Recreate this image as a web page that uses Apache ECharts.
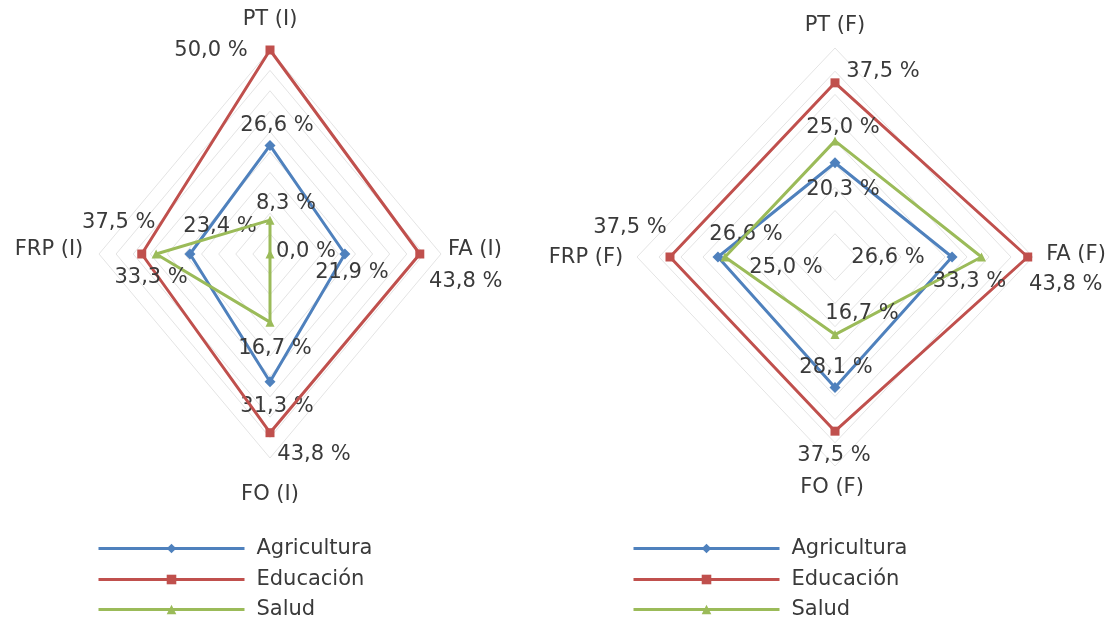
<!DOCTYPE html>
<html>
<head>
<meta charset="utf-8">
<script src="https://cdn.jsdelivr.net/npm/echarts@6/dist/echarts.min.js"></script>
<style>
html,body{margin:0;padding:0;background:#fff;}
#main{width:1110px;height:623px;}
</style>
</head>
<body>
<div id="main"></div>
<script>
// ---- data ----
const categoriesI = ['PT (I)', 'FA (I)', 'FO (I)', 'FRP (I)'];
const categoriesF = ['PT (F)', 'FA (F)', 'FO (F)', 'FRP (F)'];
const seriesNames = ['Agricultura', 'Educación', 'Salud'];
const agriculturaI = [26.6, 21.9, 31.3, 23.4];
const educacionI = [50.0, 43.8, 43.8, 37.5];
const saludI = [8.3, 0.0, 16.7, 33.3];
const agriculturaF = [20.3, 26.6, 28.1, 26.6];
const educacionF = [37.5, 43.8, 37.5, 37.5];
const saludF = [25.0, 33.3, 16.7, 25.0];
const ringTicksI = [5, 10, 15, 20, 25, 30, 35, 40, 45, 50];
const ringTicksF = [5, 10, 15, 20, 25, 30, 35, 40, 45];

// ---- styles ----
const colors = ['#4f81bd', '#c0504d', '#9bbb59'];
const symbols = ['diamond', 'rect', 'triangle'];
const symbolSizes = [11, 9, 9];
const textColor = '#3a3a3a';
const fontFamily = '"DejaVu Sans", Verdana, sans-serif';
const fontSize = 21;
// label offsets (px) per series per axis [PT, FA, FO, FRP]
const labelOffsetsI = [
  [[7, -20], [7, 19], [7, 25], [30, -27]],
  [[-59, 1], [46, 28], [44, 22], [-23, -31]],
  [[16, -17], [36, -2], [5, 26], [-5, 24]]
];
const labelOffsetsF = [
  [[8, 27], [-64, 1], [1, -20], [28, -22]],
  [[48, -11], [38, 28], [-1, 24], [-40, -29]],
  [[8, -13], [-12, 25], [27, -21], [61, 11]]
];
const catOffsetsI = [[0, -30], [34, -4], [0, 37], [-50, -4]];
const catOffsetsF = [[0, -22], [43, -2], [-3, 22], [-51, 1]];
const legendLefts = [97, 632];
const legendTops = [538, 569, 599];

// direction of each axis in the x/y plane: PT up, FA right, FO down, FRP left
const dirs = [[0, 1], [1, 0], [0, -1], [-1, 0]];
const fmt = v => v.toFixed(1).replace('.', ',') + ' %';

function ringSeries(ticks, idx) {
  return ticks.map(t => ({
    type: 'line', xAxisIndex: idx, yAxisIndex: idx, silent: true,
    symbol: 'none', z: 1,
    lineStyle: { color: '#e4e4e4', width: 1 },
    data: dirs.concat([dirs[0]]).map(d => [d[0] * t, d[1] * t])
  }));
}

function dataSeries(values, si, idx, offsets) {
  const pts = values.map((v, k) => ({
    value: [dirs[k][0] * v, dirs[k][1] * v],
    label: {
      show: true, position: 'inside', offset: offsets[si][k],
      formatter: fmt(v)
    }
  }));
  pts.push({ value: [dirs[0][0] * values[0], dirs[0][1] * values[0]], symbol: 'none', label: { show: false } });
  return {
    type: 'line', name: seriesNames[si], xAxisIndex: idx, yAxisIndex: idx, z: 5 + si,
    symbol: symbols[si], symbolSize: symbolSizes[si],
    color: colors[si],
    lineStyle: { color: colors[si], width: 3 },
    itemStyle: { color: colors[si] },
    label: { color: textColor, fontSize: fontSize, fontFamily: fontFamily },
    emphasis: { disabled: true },
    data: pts
  };
}

function catSeries(cats, max, idx, offsets) {
  return {
    type: 'scatter', xAxisIndex: idx, yAxisIndex: idx, silent: true,
    symbolSize: 0, z: 10,
    itemStyle: { opacity: 1 },
    data: cats.map((c, k) => ({
      name: c, value: [dirs[k][0] * max, dirs[k][1] * max],
      label: { show: true, position: 'inside', offset: offsets[k], formatter: '{b}',
        color: textColor, fontSize: fontSize, fontFamily: fontFamily }
    }))
  };
}

const series = []
  .concat(ringSeries(ringTicksI, 0))
  .concat(ringSeries(ringTicksF, 1))
  .concat([agriculturaI, educacionI, saludI].map((vals, si) => dataSeries(vals, si, 0, labelOffsetsI)))
  .concat([agriculturaF, educacionF, saludF].map((vals, si) => dataSeries(vals, si, 1, labelOffsetsF)))
  .concat([catSeries(categoriesI, 50, 0, catOffsetsI), catSeries(categoriesF, 45, 1, catOffsetsF)]);

const legends = [];
legendLefts.forEach(l => {
  seriesNames.forEach((n, i) => {
    legends.push({
      orient: 'vertical', data: [n], itemWidth: 146, itemHeight: 12,
      selectedMode: false, padding: 0, left: l, top: legendTops[i],
      lineStyle: { width: 3 },
      textStyle: { color: textColor, fontSize: fontSize, fontFamily: fontFamily,
        lineHeight: 20, padding: [0, 0, 0, 7] }
    });
  });
});

const option = {
  backgroundColor: '#ffffff',
  animation: false,
  grid: [
    { left: 99, top: 50, width: 342, height: 408 },
    { left: 637, top: 48, width: 396, height: 418 }
  ],
  xAxis: [
    { type: 'value', gridIndex: 0, min: -50, max: 50, show: false },
    { type: 'value', gridIndex: 1, min: -45, max: 45, show: false }
  ],
  yAxis: [
    { type: 'value', gridIndex: 0, min: -50, max: 50, show: false },
    { type: 'value', gridIndex: 1, min: -45, max: 45, show: false }
  ],
  legend: legends,
  series: series
};

const chart = echarts.init(document.getElementById('main'), null, { renderer: 'canvas' });
chart.setOption(option);
</script>
</body>
</html>
